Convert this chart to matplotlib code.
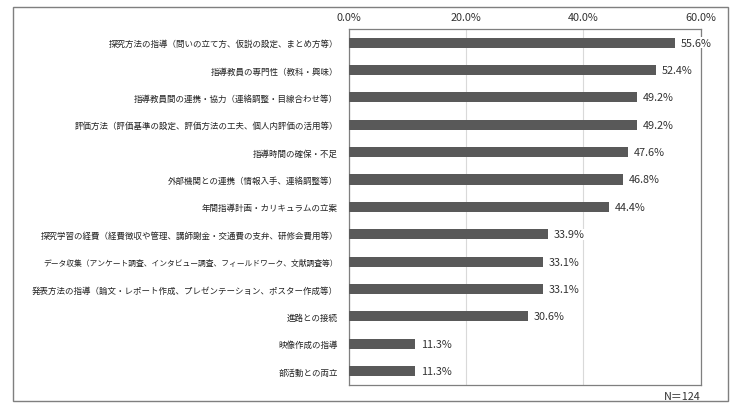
import matplotlib
matplotlib.use("Agg")
import matplotlib.pyplot as plt
from matplotlib.patches import Rectangle

plt.rcParams['font.family'] = ['Noto Sans CJK JP', 'DejaVu Sans']

labels = [
    "探究方法の指導（問いの立て方、仮説の設定、まとめ方等）",
    "指導教員の専門性（教科・興味）",
    "指導教員間の連携・協力（連絡調整・目線合わせ等）",
    "評価方法（評価基準の設定、評価方法の工夫、個人内評価の活用等）",
    "指導時間の確保・不足",
    "外部機関との連携（情報入手、連絡調整等）",
    "年間指導計画・カリキュラムの立案",
    "探究学習の経費（経費徴収や管理、講師謝金・交通費の支弁、研修会費用等）",
    "データ収集（アンケート調査、インタビュー調査、フィールドワーク、文献調査等）",
    "発表方法の指導（論文・レポート作成、プレゼンテーション、ポスター作成等）",
    "進路との接続",
    "映像作成の指導",
    "部活動との両立",
]
values = [55.6, 52.4, 49.2, 49.2, 47.6, 46.8, 44.4, 33.9, 33.1, 33.1, 30.6, 11.3, 11.3]
ticks = [0, 20, 40, 60]
n_text = "N＝124"

fig = plt.figure(figsize=(7.36, 4.10), dpi=100)
ax = fig.add_axes([0.474, 0.059, 0.478, 0.868])

y = list(range(len(values)))
ax.barh(y, values, height=0.37, color="#595959", zorder=3)
for yi, v in zip(y, values):
    ax.text(v + 1.0, yi, f"{v:.1f}%", va="center", ha="left", fontsize=7.8,
            color="#333333", zorder=4,
            bbox=dict(facecolor="white", edgecolor="none", pad=0.5))

ax.set_xlim(0, 60)
ax.set_ylim(len(values) - 0.5, -0.5)
ax.set_yticks(y)
ax.set_yticklabels(labels, fontsize=6.1, color="#222222")
# the longest label is set a bit narrower so it stays inside the frame
ax.get_yticklabels()[8].set_fontsize(5.6)
ax.set_xticks(ticks)
ax.set_xticklabels([f"{t:.1f}%" for t in ticks], fontsize=7.8, color="#333333")
ax.xaxis.tick_top()
ax.tick_params(axis="both", length=0, pad=5)
ax.tick_params(axis="y", pad=8)
ax.grid(axis="x", color="#d9d9d9", linewidth=0.8, zorder=0)
for s in ax.spines.values():
    s.set_color("#7f7f7f")
    s.set_linewidth(0.9)

fig.text(0.952, 0.032, n_text, ha="right", va="center", fontsize=7.8, color="#333333")

fig.patches.append(Rectangle((13 / 736, 1 - 402 / 410), 715 / 736, 394 / 410,
                             transform=fig.transFigure, fill=False,
                             edgecolor="#7f7f7f", linewidth=1.0))

fig.savefig("out.png", dpi=100)
